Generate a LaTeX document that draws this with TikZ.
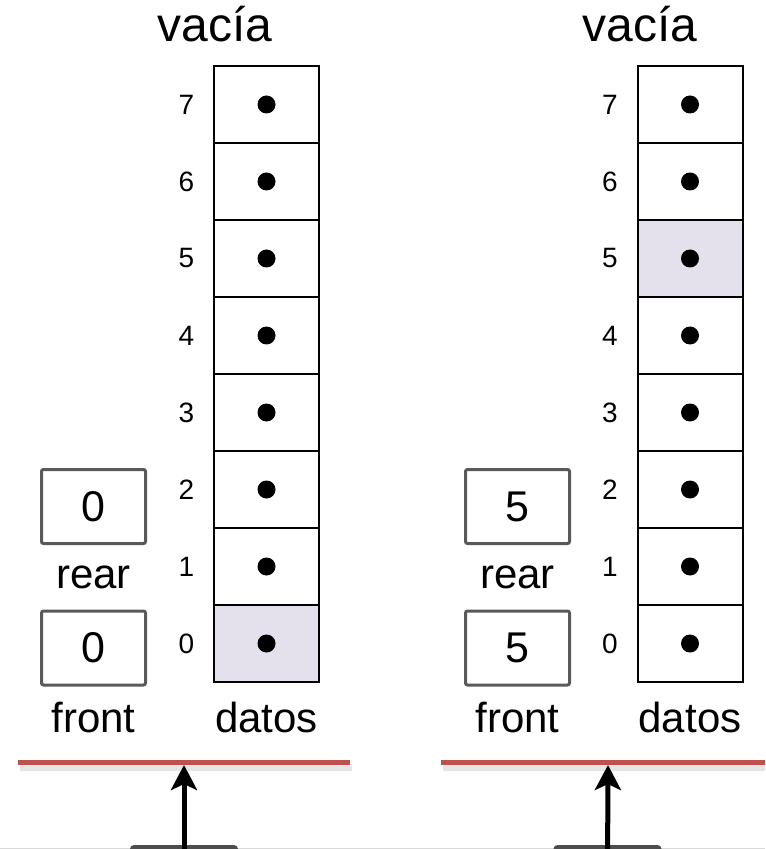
\documentclass[tikz,border=0pt]{standalone}
\usepackage{fontspec}
\setmainfont{Liberation Sans}
\usetikzlibrary{arrows.meta, positioning}

\definecolor{cellfill}{RGB}{228,224,236}
\definecolor{boxgray}{RGB}{89,89,89}
\definecolor{floorred}{RGB}{192,80,77}
\definecolor{tabgray}{RGB}{77,77,77}

\tikzset{
  slot/.style = {draw, line width=1pt, minimum width=52.5pt, minimum height=38.5pt, inner sep=0pt},
  idx/.style = {font=\fontsize{14}{17}\selectfont},
  varbox/.style = {draw=boxgray, line width=1.5pt, rounded corners=1pt, minimum width=52pt,
                   minimum height=37pt, inner sep=0pt, font=\fontsize{21.5}{26}\selectfont},
  caption/.style = {anchor=base, inner sep=0pt, font=\fontsize{21}{25}\selectfont},
  heading/.style = {anchor=base, inner sep=0pt, font=\fontsize{24}{29}\selectfont},
  floor/.style = {draw=floorred, line width=2.5pt},
  floorshade/.style = {draw=black, opacity=0.1, line width=3.5pt},
  pointer/.style = {-{Stealth[length=12.5pt, width=13pt, inset=3pt]}, line width=2.5pt},
  tab/.style = {fill=tabgray, rounded corners=2pt, minimum width=54pt, minimum height=30pt}
}

\begin{document}
\begin{tikzpicture}[x=0.5pt, y=-0.5pt]
  \useasboundingbox (0,0) rectangle (765,849);
  \clip (0,0) rectangle (765,849);

  % the two arrays, slot 0 at the bottom
  \foreach \side/\x/\hot in {L/266.5/0, R/690/5} {
    \foreach \i in {0,...,7} {
      \ifnum\i=\hot \def\cellcol{cellfill}\else \def\cellcol{white}\fi
      \node[slot, fill=\cellcol] (\side\i) at (\x, {643.5-77*\i}) {};
      \fill (\side\i) circle (4.5pt);
      \node[idx] (idx\side\i) at ({\x-80}, {643.5-77*\i}) {\i};
    }
    \node[caption] (datos\side) at (\x,732) {datos};
  }
  \node[heading] (titleL) at (215,42) {vacía};
  \node[heading] (titleR) at (640,42) {vacía};

  % rear and front
  \foreach \side/\x/\val in {L/93.5/0, R/517.5/5} {
    \node[varbox] (rear\side) at (\x,506.5) {\val};
    \node[caption] (rearlbl\side) at (\x,588) {rear};
    \node[varbox] (front\side) at (\x,648) {\val};
    \node[caption] (frontlbl\side) at (\x,732) {front};
  }

  % floors with the pointers below them
  \draw[floorshade] (20,767) -- (352,767);
  \draw[floorshade] (443,767) -- (770,767);
  \draw[floor] (18,762.5) -- (350,762.5);
  \draw[floor] (441,762.5) -- (770,762.5);
  \coordinate (floorL) at (184,765);
  \coordinate (floorR) at (608,765);

  \draw[black!15, line width=0.5pt] (0,848) -- (765,848);
  \node[tab] (tabL) at (184,875) {};
  \node[tab] (tabR) at (607.5,875) {};
  \draw[pointer] (tabL.center) -- (floorL);
  \draw[pointer] (tabR.center) -- (floorR);
\end{tikzpicture}
\end{document}
